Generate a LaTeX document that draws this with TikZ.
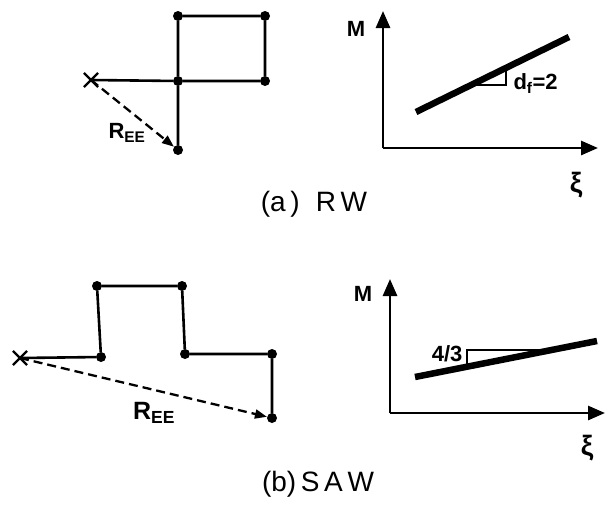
\documentclass[tikz,border=0pt]{standalone}
\usepackage{fontspec}
\setmainfont{Liberation Sans}
\usetikzlibrary{arrows.meta,shapes.misc}

\begin{document}
\begin{tikzpicture}[x=1pt, y=-1pt,
  site/.style={circle, fill=black, inner sep=0pt, minimum size=10pt},
  start/.style={cross out, draw=black, line width=2.2pt, inner sep=0pt, minimum size=12pt},
  bond/.style={line width=2.6pt},
  ree/.style={line width=2.3pt, dash pattern=on 9pt off 5pt, -{Triangle[length=12pt,width=9pt]}},
  axis/.style={line width=2.8pt, -{Triangle[length=17pt,width=14pt]}},
  fitline/.style={line width=6.5pt},
  slope/.style={line width=1.8pt},
  lbl/.style={font=\bfseries\fontsize{22}{22}\selectfont},
  greek/.style={font=\bfseries\fontsize{28}{28}\selectfont},
  caption/.style={font=\fontsize{28}{28}\selectfont}]

\useasboundingbox (0,0) rectangle (605,504);

% === (a) RW: walk ===
\node[start] (ax) at (91,80) {};
\node[site] (a1) at (178,16) {};
\node[site] (a2) at (265,16) {};
\node[site] (a3) at (178,81) {};
\node[site] (a4) at (265,81) {};
\node[site] (a5) at (178,150) {};
\draw[bond] (ax.center) -- (a3) -- (a1) -- (a2) -- (a4) -- (a3) -- (a5);
\draw[ree] (ax.center) -- (a5);
\node[lbl] (aree) at (127,133) {R\textsubscript{EE}};

% === (a) RW: M vs xi ===
\coordinate (ao) at (383,148);
\coordinate (ay) at (383,11);
\coordinate (axx) at (598,148);
\draw[axis] (ao) -- (ay);
\draw[axis] (ao) -- (axx);
\node[lbl] (am) at (356,29) {M};
\node[greek] (axi) at (576,185) {ξ};
\coordinate (af1) at (416,112);
\coordinate (af2) at (569,37);
\draw[fitline] (af1) -- (af2);
\draw[slope] (470,85) -- (506,85) -- (506,68);
\node[lbl, anchor=west] (adf) at (510,84) {d\textsubscript{f}=2};
\node[caption] (acap) at (314,204) {(a\,)\hspace{16pt}R\,W};

% === (b) SAW: walk ===
\node[start] (bx) at (20,358) {};
\node[site] (b1) at (97,286) {};
\node[site] (b2) at (182,286) {};
\node[site] (b3) at (101,357) {};
\node[site] (b4) at (185,354) {};
\node[site] (b5) at (272,354) {};
\node[site] (b6) at (272,418) {};
\draw[bond] (bx.center) -- (b3) -- (b1) -- (b2) -- (b4) -- (b5) -- (b6);
\draw[ree] (bx.center) -- (b6);
\node[lbl, font=\bfseries\fontsize{25}{25}\selectfont] (bree) at (154,413) {R\textsubscript{EE}};

% === (b) SAW: M vs xi ===
\coordinate (bo) at (390,413);
\coordinate (by) at (390,279);
\coordinate (bxx) at (605,413);
\draw[axis] (bo) -- (by);
\draw[axis] (bo) -- (bxx);
\node[lbl] (bm) at (363,294) {M};
\node[greek] (bxi) at (587,448) {ξ};
\coordinate (bf1) at (415,377);
\coordinate (bf2) at (597,341);
\draw[fitline] (bf1) -- (bf2);
\draw[slope] (467,367) -- (467,350) -- (551,350);
\node[lbl, anchor=east] (bdf) at (466,354) {4/3};
\node[caption] (bcap) at (318,484) {(b)\,S\,A\,W};

\end{tikzpicture}
\end{document}
